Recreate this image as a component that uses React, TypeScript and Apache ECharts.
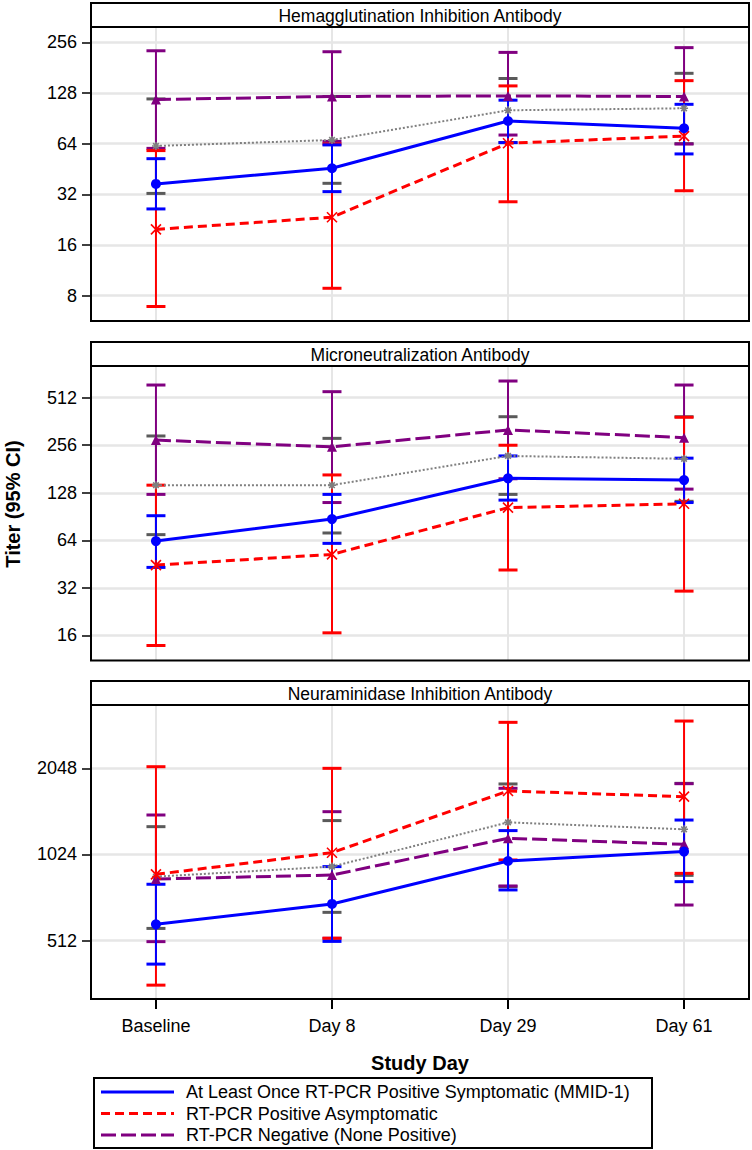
import React, { useEffect, useRef } from "react";
import * as echarts from "echarts";

// ---------- data ----------
const categories = ["Baseline", "Day 8", "Day 29", "Day 61"];

// Hemagglutination Inhibition Antibody
const haiSymGmt = [36.9, 45.7, 87.2, 79];
const haiSymLo = [26.2, 33.2, 64.9, 55.6];
const haiSymHi = [52.1, 62.9, 116, 109.6];
const haiAsyGmt = [19.8, 23.4, 64.3, 71];
const haiAsyLo = [6.9, 8.85, 28.9, 33.6];
const haiAsyHi = [58.2, 63.7, 141, 151.5];
const haiNegGmt = [117, 122, 123, 122];
const haiNegLo = [60, 66, 72, 63.7];
const haiNegHi = [228, 225, 223, 238];
const haiAllGmt = [62, 67.3, 101, 103.8];
const haiAllLo = [32.4, 37.2, 65, 64];
const haiAllHi = [118, 122, 156, 167.5];

// Microneutralization Antibody
const mnSymGmt = [63.3, 87.2, 158, 154];
const mnSymLo = [43.1, 61.2, 115, 111];
const mnSymHi = [91.6, 125, 219, 212];
const mnAsyGmt = [44.6, 52.1, 103, 109];
const mnAsyLo = [13.8, 16.6, 41.5, 30.5];
const mnAsyHi = [143, 166, 256, 385];
const mnNegGmt = [276, 250, 320, 286];
const mnNegLo = [125, 111, 157, 135];
const mnNegHi = [616, 559, 653, 616];
const mnAllGmt = [143, 143, 219, 210];
const mnAllLo = [69.5, 71.2, 125, 113];
const mnAllHi = [293, 283, 388, 388];

// Neuraminidase Inhibition Antibody
const niSymGmt = [584, 688, 972, 1048];
const niSymLo = [424, 509, 770, 823];
const niSymHi = [806, 929, 1241, 1351];
const niAsyGmt = [873, 1039, 1707, 1631];
const niAsyLo = [358, 522, 980, 880];
const niAsyHi = [2075, 2048, 2965, 2996];
const niNegGmt = [841, 868, 1167, 1111];
const niNegLo = [508, 522, 795, 682];
const niNegHi = [1407, 1445, 1744, 1810];
const niAllGmt = [857, 929, 1326, 1254];
const niAllLo = [565, 643, 791, 866];
const niAllHi = [1281, 1345, 1806, 1815];

const panelTitles = [
  "Hemagglutination Inhibition Antibody",
  "Microneutralization Antibody",
  "Neuraminidase Inhibition Antibody",
];
const panelTicks = [
  [8, 16, 32, 64, 128, 256],
  [16, 32, 64, 128, 256, 512],
  [512, 1024, 2048],
];
const legendNames = [
  "At Least Once RT-PCR Positive Symptomatic (MMID-1)",
  "RT-PCR Positive Asymptomatic",
  "RT-PCR Negative (None Positive)",
];

// ---------- layout / style ----------
const FONT = '"Liberation Sans", Arial, Helvetica, sans-serif';
const LEFT = 91;
const RIGHT = 749;
const gridTops = [27, 366, 705];
const gridHeights = [294, 294.5, 294];
const yMins = [2.5, 3.471, 8.323];
const yMaxs = [8.302, 9.667, 11.735];
const headerH = 24;

const groupStyles = [
  // gray (unlabelled)
  { color: "#808080", barColor: "#5a5a5a", type: [2, 2], width: 2, symbol: "path://M0 5L10 5M5 0L5 10M1.5 1.5L8.5 8.5M8.5 1.5L1.5 8.5", size: 8, stroke: true },
  // purple
  { color: "#800080", barColor: "#800080", type: [15, 5], width: 3, symbol: "triangle", size: 10, stroke: false },
  // red
  { color: "#ff0000", barColor: "#ff0000", type: [9, 5], width: 3, symbol: "path://M0 0L10 10M10 0L0 10M5 0L5 10", size: 10, stroke: true },
  // blue
  { color: "#0000ff", barColor: "#0000ff", type: "solid", width: 3, symbol: "circle", size: 10, stroke: false },
];

export default function App() {
  const ref = useRef<HTMLDivElement>(null);

  useEffect(() => {
    if (!ref.current) return;
    const chart = echarts.init(ref.current, null, { renderer: "svg" });

    const panelData = [
      [
        [haiAllGmt, haiAllLo, haiAllHi],
        [haiNegGmt, haiNegLo, haiNegHi],
        [haiAsyGmt, haiAsyLo, haiAsyHi],
        [haiSymGmt, haiSymLo, haiSymHi],
      ],
      [
        [mnAllGmt, mnAllLo, mnAllHi],
        [mnNegGmt, mnNegLo, mnNegHi],
        [mnAsyGmt, mnAsyLo, mnAsyHi],
        [mnSymGmt, mnSymLo, mnSymHi],
      ],
      [
        [niAllGmt, niAllLo, niAllHi],
        [niNegGmt, niNegLo, niNegHi],
        [niAsyGmt, niAsyLo, niAsyHi],
        [niSymGmt, niSymLo, niSymHi],
      ],
    ];
    const groupNames = ["Overall", legendNames[2], legendNames[1], legendNames[0]];

    const grids: any[] = [];
    const xAxes: any[] = [];
    const yAxes: any[] = [];
    const series: any[] = [];
    const graphics: any[] = [];

    for (let p = 0; p < 3; p++) {
      const isBottom = p === 2;
      grids.push({
        left: LEFT,
        width: RIGHT - LEFT,
        top: gridTops[p],
        height: gridHeights[p],
        show: true,
        borderColor: "#000",
        borderWidth: 2,
        backgroundColor: "transparent",
        z: 5,
      });
      xAxes.push({
        type: "value",
        gridIndex: p,
        position: "bottom",
        min: -0.369,
        max: 3.369,
        axisLine: { show: false, onZero: false },
        axisTick: {
          show: isBottom,
          customValues: [0, 1, 2, 3],
          inside: false,
          length: 10,
          lineStyle: { color: "#000", width: 2 },
        },
        axisLabel: {
          show: isBottom,
          customValues: [0, 1, 2, 3],
          formatter: (v: number) => categories[Math.round(v)] ?? "",
          fontSize: 18,
          fontFamily: FONT,
          color: "#000",
          margin: 18,
        },
        splitLine: { show: true, lineStyle: { color: "#e6e6e6", width: 2 } },
      });
      const tv = panelTicks[p].map((t) => Math.log2(t));
      yAxes.push({
        type: "value",
        gridIndex: p,
        position: "left",
        min: yMins[p],
        max: yMaxs[p],
        axisLine: { show: false, onZero: false },
        axisTick: {
          show: true,
          customValues: tv,
          inside: false,
          length: 9,
          lineStyle: { color: "#000", width: 1.5 },
        },
        axisLabel: {
          customValues: tv,
          formatter: (v: number) => String(Math.round(Math.pow(2, v))),
          fontSize: 18,
          fontFamily: FONT,
          color: "#000",
          margin: 14,
        },
        splitLine: { show: true, lineStyle: { color: "#e6e6e6", width: 2.5 } },
      });

      // error bars
      panelData[p].forEach((g, gi) => {
        const st = groupStyles[gi];
        const [gmt, lo, hi] = g;
        series.push({
          type: "custom",
          xAxisIndex: p,
          yAxisIndex: p,
          z: 2,
          silent: true,
          encode: { x: 0, y: [1, 2] },
          data: gmt.map((_, i) => [i, Math.log2(lo[i]), Math.log2(hi[i])]),
          renderItem: (params: any, api: any) => {
            const x = api.value(0);
            const a = api.coord([x, api.value(1)]);
            const b = api.coord([x, api.value(2)]);
            const w = 9.5;
            return {
              type: "group",
              children: [
                { type: "line", shape: { x1: a[0], y1: a[1], x2: b[0], y2: b[1] }, style: { stroke: st.barColor, lineWidth: 2 } },
                { type: "line", shape: { x1: a[0] - w, y1: a[1], x2: a[0] + w, y2: a[1] }, style: { stroke: st.barColor, lineWidth: 3 } },
                { type: "line", shape: { x1: b[0] - w, y1: b[1], x2: b[0] + w, y2: b[1] }, style: { stroke: st.barColor, lineWidth: 3 } },
              ],
            };
          },
        });
      });
      // lines
      panelData[p].forEach((g, gi) => {
        const st = groupStyles[gi];
        const [gmt] = g;
        series.push({
          type: "line",
          name: groupNames[gi],
          xAxisIndex: p,
          yAxisIndex: p,
          z: 3 + gi,
          data: gmt.map((v, i) => [i, Math.log2(v)]),
          symbol: st.symbol,
          symbolSize: st.size,
          showAllSymbol: true,
          lineStyle: { color: st.color, width: st.width, type: st.type },
          itemStyle: st.stroke
            ? { color: st.color, borderColor: st.color, borderWidth: 1.6 }
            : { color: st.color, borderWidth: 0 },
        });
      });

      // header
      graphics.push({
        type: "rect",
        shape: { x: LEFT, y: gridTops[p] - headerH, width: RIGHT - LEFT, height: headerH },
        style: { fill: "#fff", stroke: "#000", lineWidth: 2 },
        z: 10,
      });
      graphics.push({
        type: "text",
        x: (LEFT + RIGHT) / 2,
        y: gridTops[p] - headerH / 2 + 0.5,
        style: {
          text: panelTitles[p],
          font: `17.5px ${FONT}`,
          fill: "#000",
          align: "center",
          verticalAlign: "middle",
        },
        z: 11,
      });
    }

    // axis titles
    graphics.push({
      type: "text",
      x: 13,
      y: 504,
      rotation: Math.PI / 2,
      style: {
        text: "Titer (95% CI)",
        font: `bold 20px ${FONT}`,
        fill: "#000",
        align: "center",
        verticalAlign: "middle",
      },
    });
    graphics.push({
      type: "text",
      x: (LEFT + RIGHT) / 2,
      y: 1063,
      style: {
        text: "Study Day",
        font: `bold 20px ${FONT}`,
        fill: "#000",
        align: "center",
        verticalAlign: "middle",
      },
    });

    // legend
    graphics.push({
      type: "rect",
      shape: { x: 94, y: 1078, width: 558, height: 70 },
      style: { fill: "#fff", stroke: "#000", lineWidth: 2 },
    });
    const legendStyles = [groupStyles[3], groupStyles[2], groupStyles[1]];
    const rowsY = [1092, 1113.5, 1135];
    legendNames.forEach((name, i) => {
      const st = legendStyles[i];
      graphics.push({
        type: "line",
        shape: { x1: 101, y1: rowsY[i], x2: 174, y2: rowsY[i] },
        style: {
          stroke: st.color,
          lineWidth: 3,
          lineDash: Array.isArray(st.type) ? st.type : null,
        },
      });
      graphics.push({
        type: "text",
        x: 186,
        y: rowsY[i],
        style: {
          text: name,
          font: `18px ${FONT}`,
          fill: "#000",
          align: "left",
          verticalAlign: "middle",
        },
      });
    });

    chart.setOption({
      animation: false,
      backgroundColor: "#fff",
      grid: grids,
      xAxis: xAxes,
      yAxis: yAxes,
      series,
      graphic: graphics,
    });

    return () => chart.dispose();
  }, []);

  return (
    <div
      ref={ref}
      style={{ position: "absolute", left: 0, top: 0, width: 752, height: 1150 }}
    />
  );
}
